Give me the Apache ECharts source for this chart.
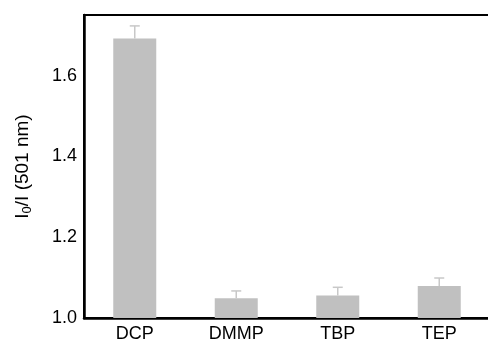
<!DOCTYPE html>
<html>
<head>
<meta charset="utf-8">
<script src="https://cdn.jsdelivr.net/npm/echarts@6/dist/echarts.min.js"></script>
<style>
  html, body { margin: 0; padding: 0; background: #fff; }
  #chart { width: 488px; height: 341px; }
</style>
</head>
<body>
<div id="chart"></div>
<script>
var categories = ['DCP', 'DMMP', 'TBP', 'TEP'];
var ratios = [1.692, 1.049, 1.056, 1.079];
var errors = [0.031, 0.018, 0.02, 0.02];
var yTicks = [1.0, 1.2, 1.4, 1.6];

var chart = echarts.init(document.getElementById('chart'));

var font = 'Liberation Sans, Arial, sans-serif';

var option = {
    animation: false,
    grid: {
        left: 84, right: -2, top: 15, bottom: 23,
        outerBoundsMode: 'none',
        show: true, borderColor: '#000', borderWidth: 2
    },
    xAxis: {
        type: 'category',
        data: categories,
        boundaryGap: true,
        axisLine: {lineStyle: {color: '#000', width: 2.5}},
        axisTick: {inside: true, length: 3, lineStyle: {color: '#000', width: 2}},
        axisLabel: {color: '#000', fontSize: 18, fontFamily: font, margin: 7}
    },
    yAxis: {
        type: 'value',
        min: 1.0,
        max: 1.75,
        interval: 0.2,
        splitLine: {show: false},
        axisLine: {show: true, lineStyle: {color: '#000', width: 2.5}},
        axisTick: {inside: true, length: 5, lineStyle: {color: '#000', width: 2}},
        axisLabel: {
            color: '#000', fontSize: 18, fontFamily: font, margin: 7,
            showMaxLabel: false,
            formatter: function (v) {
                return yTicks.some(function (t) { return Math.abs(t - v) < 1e-6; }) ? v.toFixed(1) : '';
            }
        },
        name: '{a|I}{s|0}{a|/I (501 nm)}',
        nameLocation: 'middle',
        nameGap: 50,
        nameRotate: 90,
        nameTextStyle: {
            rich: {
                a: {fontSize: 19, fontFamily: font, color: '#000'},
                s: {fontSize: 13, fontFamily: font, color: '#000', verticalAlign: 'bottom', padding: [10, 0, 0, 0]}
            }
        }
    },
    series: [
        {
            type: 'bar',
            data: ratios,
            barWidth: 43,
            itemStyle: {color: '#c0c0c0'}
        },
        {
            type: 'custom',
            data: ratios.map(function (v, i) { return [i, v, v + errors[i]]; }),
            renderItem: function (params, api) {
                var x = api.value(0);
                var lo = api.coord([x, api.value(1)]);
                var hi = api.coord([x, api.value(2)]);
                var style = {stroke: '#c8c8c8', lineWidth: 1.5};
                return {
                    type: 'group',
                    children: [
                        {type: 'line', shape: {x1: lo[0], y1: lo[1], x2: hi[0], y2: hi[1]}, style: style},
                        {type: 'line', shape: {x1: hi[0] - 5, y1: hi[1], x2: hi[0] + 5, y2: hi[1]}, style: style}
                    ]
                };
            },
            z: 3
        }
    ]
};

chart.setOption(option);
</script>
</body>
</html>
